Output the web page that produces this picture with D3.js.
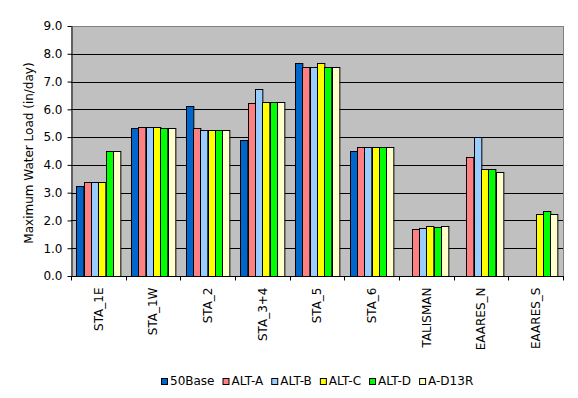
<!DOCTYPE html>
<html>
<head>
<meta charset="utf-8">
<script src="https://cdn.jsdelivr.net/npm/d3@7"></script>
<style>
  body { margin: 0; background: #fff; }
  svg text { font-family: "DejaVu Sans", sans-serif; font-size: 12px; fill: #000; }
</style>
</head>
<body>
<svg id="chart"></svg>
<script>
const categories = ["STA_1E", "STA_1W", "STA_2", "STA_3+4", "STA_5", "STA_6", "TALISMAN", "EAARES_N", "EAARES_S"];
const seriesNames = ["50Base", "ALT-A", "ALT-B", "ALT-C", "ALT-D", "A-D13R"];
const seriesColors = ["#0066CC", "#FF8080", "#99CCFF", "#FFFF00", "#00FF00", "#FFFFCC"];

const base50 = [3.23, 5.32, 6.11, 4.88, 7.66, 4.49, null, null, null];
const altA   = [3.40, 5.35, 5.32, 6.22, 7.54, 4.63, 1.68, 4.28, null];
const altB   = [3.40, 5.35, 5.24, 6.72, 7.54, 4.63, 1.72, 4.99, null];
const altC   = [3.40, 5.35, 5.24, 6.25, 7.66, 4.63, 1.79, 3.84, 2.22];
const altD   = [4.51, 5.32, 5.24, 6.25, 7.54, 4.63, 1.75, 3.84, 2.33];
const altD13R= [4.51, 5.32, 5.24, 6.25, 7.54, 4.63, 1.79, 3.73, 2.22];
const seriesValues = [base50, altA, altB, altC, altD, altD13R];

const yTicks = [0, 1, 2, 3, 4, 5, 6, 7, 8, 9];

const W = 578, H = 398;
const MARGIN = {top: 26, left: 71, right: 15, bottom: 122};
const plotW = W - MARGIN.left - MARGIN.right;
const plotH = H - MARGIN.top - MARGIN.bottom;

const svg = d3.select("#chart").attr("width", W).attr("height", H);

const x = d3.scaleBand().domain(categories).range([0, plotW]).padding(0);
const groupPad = x.bandwidth() * 0.098;
const xs = d3.scaleBand().domain(seriesNames).range([groupPad, x.bandwidth() - groupPad]).padding(0);
const y = d3.scaleLinear().domain([0, 9]).range([plotH, 0]);

const g = svg.append("g").attr("transform", "translate(" + MARGIN.left + "," + MARGIN.top + ")");

// plot background
g.append("rect")
  .attr("width", plotW).attr("height", plotH)
  .attr("fill", "#C0C0C0");

// gridlines
g.append("g")
  .selectAll("line")
  .data(yTicks.slice(1))
  .join("line")
  .attr("x1", 0).attr("x2", plotW)
  .attr("y1", d => Math.round(y(d)) + 0.5).attr("y2", d => Math.round(y(d)) + 0.5)
  .attr("stroke", d => d === 9 ? "#808080" : "#000")
  .attr("stroke-width", 1);

// right frame
g.append("line")
  .attr("x1", plotW + 0.5).attr("x2", plotW + 0.5)
  .attr("y1", 0).attr("y2", plotH)
  .attr("stroke", "#808080");

// bars
const rows = [];
seriesNames.forEach((s, si) => {
  categories.forEach((c, ci) => {
    const v = seriesValues[si][ci];
    if (v != null) rows.push({cat: c, series: s, value: v, color: seriesColors[si]});
  });
});

g.append("g")
  .selectAll("rect")
  .data(rows)
  .join("rect")
  .attr("x", d => Math.round(x(d.cat) + xs(d.series)) + 0.5)
  .attr("y", d => Math.round(y(d.value)) + 0.5)
  .attr("width", xs.bandwidth())
  .attr("height", d => plotH - Math.round(y(d.value)))
  .attr("fill", d => d.color)
  .attr("stroke", "#000")
  .attr("stroke-width", 1);

// y axis
const yAxis = g.append("g")
  .attr("transform", "translate(0.5,0)")
  .call(d3.axisLeft(y).tickValues(yTicks).tickFormat(d3.format(".1f")).tickSize(4).tickSizeOuter(0).tickPadding(5));
yAxis.select(".domain").attr("stroke", "#000");
yAxis.selectAll(".tick line").attr("stroke", "#000");
yAxis.selectAll("text").attr("font-size", "12px").attr("font-family", null);

// x axis
const xAxis = g.append("g")
  .attr("transform", "translate(0," + (plotH + 0.5) + ")");
xAxis.append("line")
  .attr("x1", 0).attr("x2", plotW + 1)
  .attr("stroke", "#000");
xAxis.selectAll("line.tk")
  .data(d3.range(categories.length + 1))
  .join("line")
  .attr("class", "tk")
  .attr("x1", i => Math.round(i * x.step()) + 0.5)
  .attr("x2", i => Math.round(i * x.step()) + 0.5)
  .attr("y1", 0).attr("y2", 4)
  .attr("stroke", "#000");
xAxis.selectAll("text")
  .data(categories)
  .join("text")
  .attr("transform", d => "translate(" + (x(d) + x.bandwidth() / 2) + ",11) rotate(-90)")
  .attr("text-anchor", "end")
  .attr("dy", "0.35em")
  .text(d => d);

// y title
svg.append("text")
  .attr("transform", "translate(29," + (MARGIN.top + plotH / 2 + 2) + ") rotate(-90)")
  .attr("text-anchor", "middle")
  .attr("dy", "0.35em")
  .text("Maximum Water Load (in/day)");

// legend
const legend = svg.append("g");
let lx = 0;
seriesNames.forEach((s, i) => {
  const item = legend.append("g").attr("transform", "translate(" + lx + ",0)");
  item.append("rect")
    .attr("x", 0.5).attr("y", -6.5)
    .attr("width", 6).attr("height", 6)
    .attr("fill", seriesColors[i])
    .attr("stroke", "#000");
  const t = item.append("text")
    .attr("x", 9).attr("y", 0)
    .text(s);
  lx += 9 + t.node().getComputedTextLength() + 8;
});
const legendW = lx - 8;
legend.attr("transform", "translate(" + Math.round(317 - legendW / 2) + ",385)");
</script>
</body>
</html>
